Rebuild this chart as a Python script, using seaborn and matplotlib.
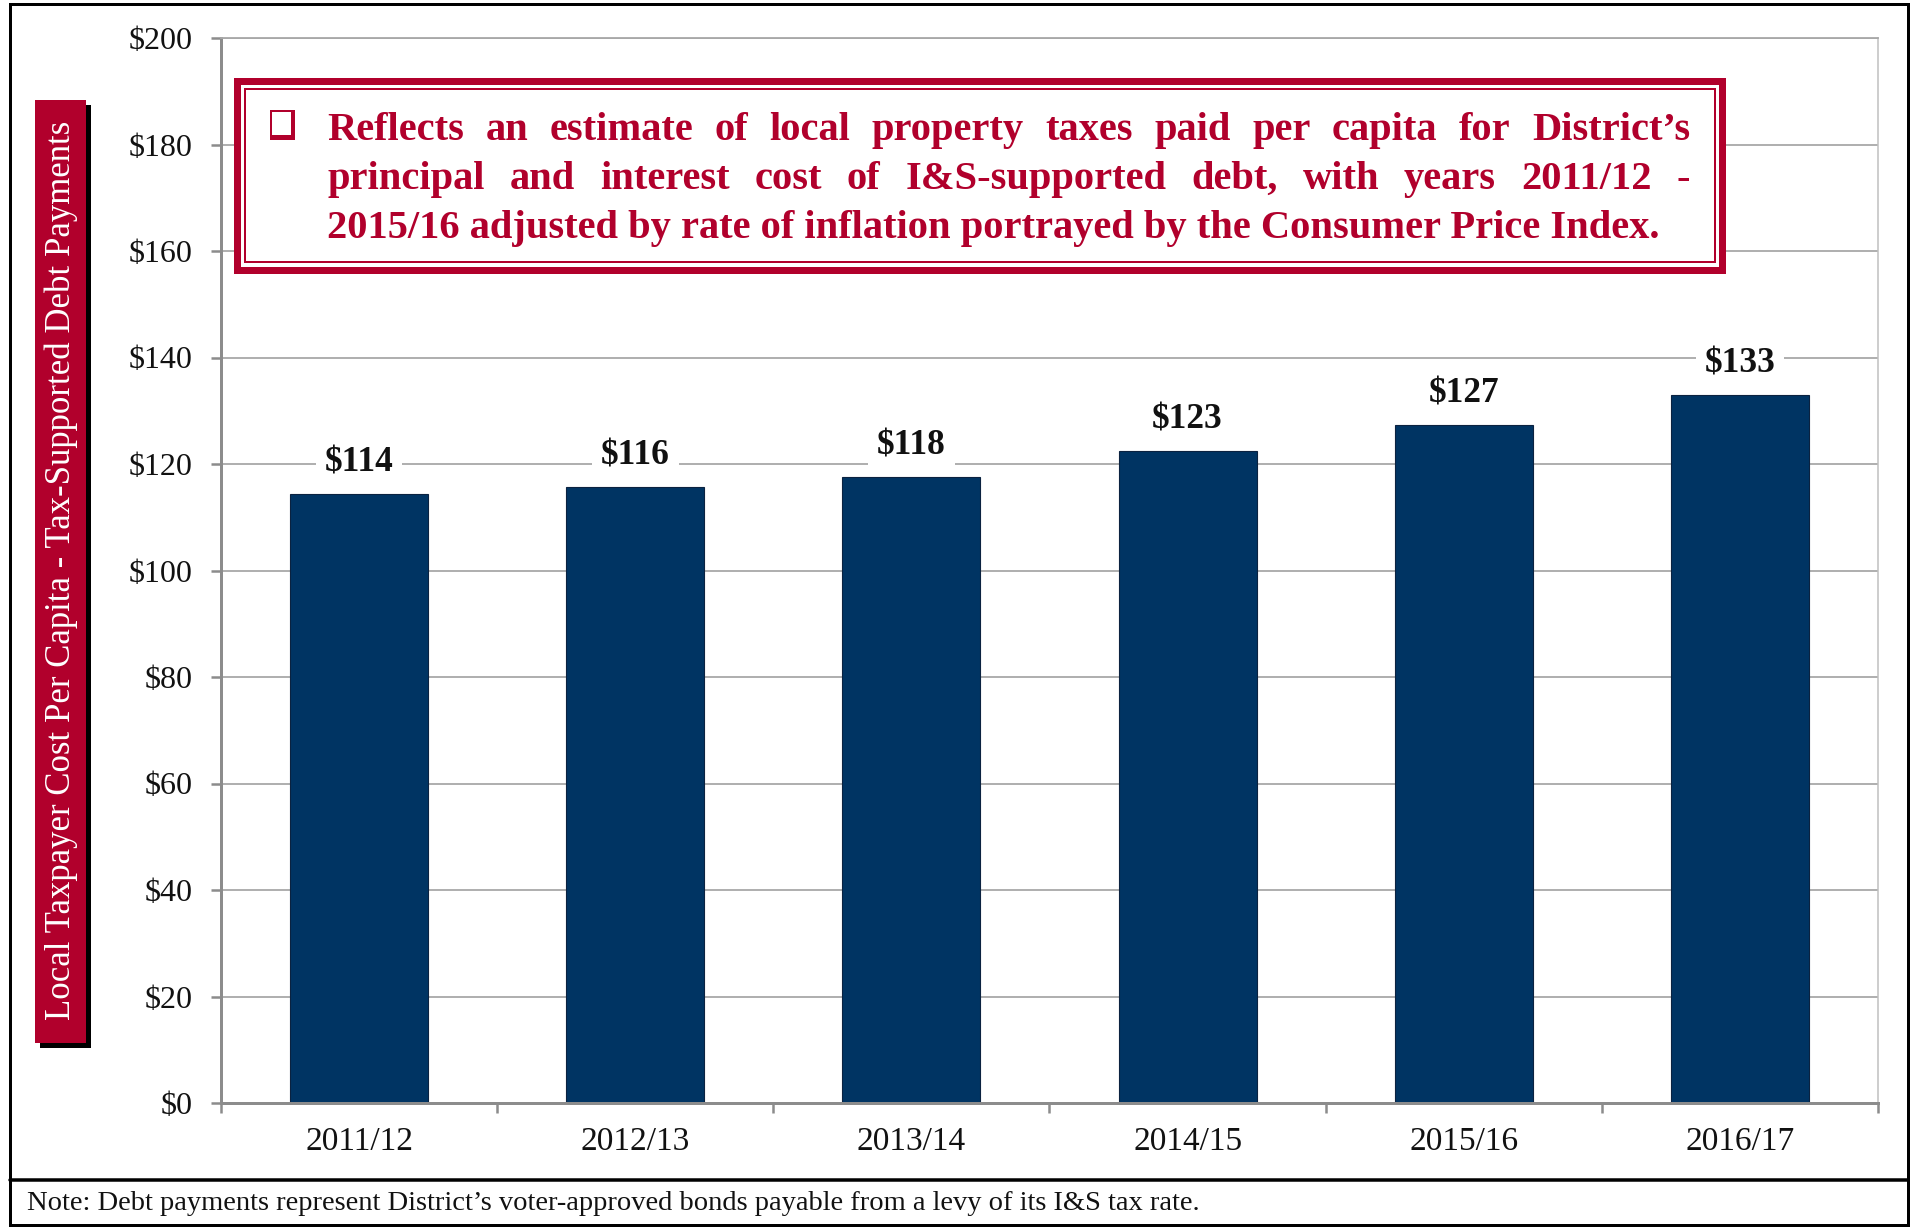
import matplotlib
matplotlib.use('Agg')
import matplotlib.pyplot as plt
import pandas as pd
import seaborn as sns
from matplotlib.patches import Rectangle
from matplotlib.lines import Line2D
from matplotlib.ticker import FuncFormatter, FixedLocator

# data
years = ['2011/12', '2012/13', '2013/14', '2014/15', '2015/16', '2016/17']
cost = [114.4, 115.6, 117.5, 122.5, 127.3, 133.0]
bar_labels = ['$114', '$116', '$118', '$123', '$127', '$133']
y_ticks = [0, 20, 40, 60, 80, 100, 120, 140, 160, 180, 200]

ylabel = 'Local Taxpayer Cost Per Capita - Tax-Supported Debt Payments'
box_lines = [
    'Reflects an estimate of local property taxes paid per capita for District\u2019s',
    'principal and interest cost of I&S-supported debt, with years 2011/12 -',
    '2015/16 adjusted by rate of inflation portrayed by the Consumer Price Index.',
]
note = ('Note: Debt payments represent District\u2019s voter-approved bonds payable '
        'from a levy of its I&S tax rate.')

RED = '#B1002C'
NAVY = '#003463'
GRID = '#A8A8A8'
AXIS = '#8C8C8C'
W, H = 1915, 1227

sns.set_theme(style='white')
plt.rcParams['font.family'] = ['Liberation Serif', 'DejaVu Serif']
plt.rcParams['text.parse_math'] = False


def fx(px):
    return px / W


def fy(py):
    return 1 - py / H


def pt(px):
    return px * 72 / 100


fig = plt.figure(figsize=(W / 100, H / 100), dpi=100)
ax = fig.add_axes([fx(221), fy(1103), fx(1878) - fx(221), fy(38) - fy(1103)])

df = pd.DataFrame({'year': years, 'cost': cost})
sns.barplot(data=df, x='year', y='cost', color=NAVY, saturation=1, width=0.5,
            edgecolor='#0B2240', linewidth=0.8, ax=ax)

ax.set_xlim(-0.5, 5.5)
ax.set_ylim(0, 200)
ax.set_yticks(y_ticks)
ax.yaxis.set_major_formatter(FuncFormatter(lambda v, p: f'${v:.0f}'))
ax.yaxis.grid(True, color=GRID, lw=1.3)
ax.xaxis.grid(False)
ax.set_axisbelow(True)
ax.set_xlabel('')
ax.set_ylabel('')

for side in ['left', 'bottom']:
    ax.spines[side].set_color(AXIS)
    ax.spines[side].set_linewidth(pt(3))
ax.spines['right'].set_color('#BFBFBF')
ax.spines['right'].set_linewidth(pt(1.5))
ax.spines['top'].set_color(GRID)
ax.spines['top'].set_linewidth(1.3)

ax.tick_params(axis='y', left=True, length=pt(10), width=pt(2.5), color=AXIS,
               labelsize=23, pad=pt(18), labelcolor='#111111')
ax.tick_params(axis='x', which='major', bottom=False, length=0, labelsize=24,
               pad=pt(24), labelcolor='#111111')
ax.xaxis.set_minor_locator(FixedLocator([i - 0.5 for i in range(len(years) + 1)]))
ax.tick_params(axis='x', which='minor', bottom=True, length=pt(10), width=pt(2.5),
               color=AXIS)

for i, (v, lab) in enumerate(zip(cost, bar_labels)):
    ax.annotate(lab, (i, v), xytext=(0, pt(31)), textcoords='offset points',
                ha='center', va='center', fontsize=25.5, fontweight='bold',
                color='#111111', zorder=5,
                bbox=dict(boxstyle='square,pad=0.25', fc='white', ec='none'))

# red y-label tab with black shadow
fig.add_artist(Rectangle((fx(40), fy(1048)), fx(51), (1048 - 105) / H,
                         transform=fig.transFigure, fc='black', ec='none'))
fig.add_artist(Rectangle((fx(35), fy(1043)), fx(51), (1043 - 100) / H,
                         transform=fig.transFigure, fc=RED, ec='none'))
fig.text(fx(61), fy(570), ylabel, rotation=90, ha='center', va='center',
         color='white', fontsize=25)

# annotation box with double red border
fig.add_artist(Rectangle((fx(237.5), fy(269.5)), fx(1722.5 - 237.5), (269.5 - 81.5) / H,
                         transform=fig.transFigure, fc='white', ec=RED, lw=pt(7)))
fig.add_artist(Rectangle((fx(245), fy(262)), fx(1715 - 245), (262 - 89) / H,
                         transform=fig.transFigure, fc='none', ec=RED, lw=pt(2)))
# shadowed check box
fig.add_artist(Rectangle((fx(270), fy(140)), fx(25), 30 / H,
                         transform=fig.transFigure, fc=RED, ec='none'))
fig.add_artist(Rectangle((fx(272.5), fy(135)), fx(18.5), 22.5 / H,
                         transform=fig.transFigure, fc='white', ec='none'))

renderer = fig.canvas.get_renderer()
x_left, x_right = 327, 1690
probe = fig.text(0, 0, box_lines[2], fontsize=10, fontweight='bold')
fs = 10 * 1341 / probe.get_window_extent(renderer).width
probe.remove()

baselines = [140, 189, 238]
for k, line in enumerate(box_lines):
    if k < 2:
        words = line.split(' ')
        texts = [fig.text(0, fy(baselines[k]), w, fontsize=fs, fontweight='bold',
                          color=RED, va='baseline', ha='left') for w in words]
        widths = [t.get_window_extent(renderer).width for t in texts]
        gap = (x_right - x_left - sum(widths)) / (len(words) - 1)
        x = x_left
        for t, wdt in zip(texts, widths):
            t.set_x(fx(x))
            x += wdt + gap
    else:
        fig.text(fx(x_left), fy(baselines[k]), line, fontsize=fs, fontweight='bold',
                 color=RED, va='baseline', ha='left')

# outer frame and footnote
fig.add_artist(Rectangle((fx(10), fy(1225)), fx(1898), (1225 - 4) / H,
                         transform=fig.transFigure, fc='none', ec='black', lw=pt(3)))
fig.add_artist(Line2D([fx(10), fx(1908)], [fy(1180), fy(1180)],
                      transform=fig.transFigure, color='black', lw=pt(3.5)))
fig.text(fx(27), fy(1203), note, va='center', ha='left', fontsize=20.5, color='#111111')

fig.savefig('out.png', dpi=100)
